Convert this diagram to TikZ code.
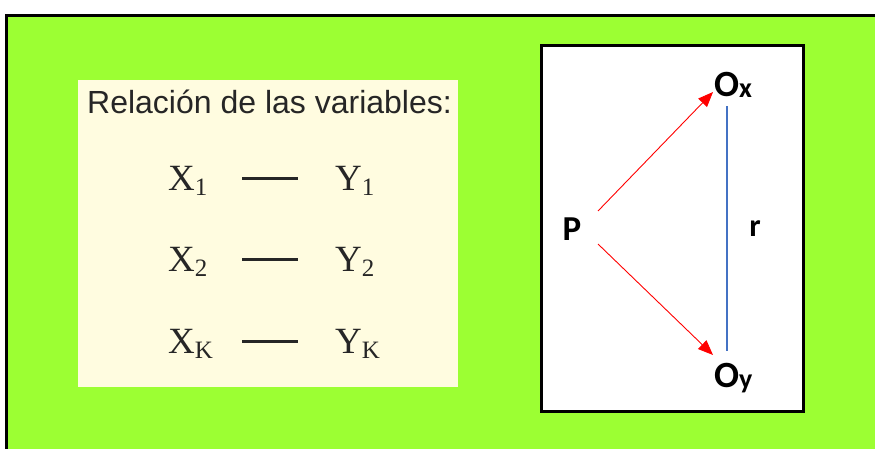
\documentclass[tikz,border=0pt]{standalone}
\usepackage{fontspec}
\setmainfont{Liberation Serif}
\newfontfamily\arialf{Liberation Sans}
\newfontfamily\calib{Carlito}
\usetikzlibrary{arrows.meta,calc}
\definecolor{bggreen}{HTML}{9CFF33}
\definecolor{cream}{HTML}{FFFCE0}
\definecolor{linkblue}{HTML}{4472C4}
\definecolor{arrred}{HTML}{FF0000}
\tikzset{
  varlbl/.style={inner sep=0pt, anchor=base west, font=\fontsize{37}{37}\selectfont, text=black!85},
  dashln/.style={line width=3pt, black!85},
  boldlbl/.style={inner sep=0pt, font=\calib\bfseries\fontsize{37}{37}\selectfont},
  redarr/.style={arrred, line width=0.9pt, -{Triangle[length=15pt,width=12pt]}},
}
\newcommand{\subsc}[1]{\raisebox{-5pt}{\fontsize{25}{25}\selectfont #1}}
\newcommand{\osub}[1]{\raisebox{-1pt}{\fontsize{28}{28}\selectfont #1}}
\begin{document}
\begin{tikzpicture}[x=1pt,y=-1pt]
\useasboundingbox (0,0) rectangle (875,448);
% background
\fill[white] (0,0) rectangle (875,448);
\filldraw[fill=bggreen, draw=black, line width=3pt] (6,15) rectangle (890,460);
% left cream panel
\fill[cream] (78,80) rectangle (458,387);
\node[inner sep=0pt, anchor=base west, font=\arialf\fontsize{32}{32}\selectfont, text=black!85] (title) at (87,113) {Relación de las variables:};
\node[varlbl] (X1) at (168,190) {X\subsc{1}};
\node[varlbl] (Y1) at (335,190) {Y\subsc{1}};
\node[varlbl] (X2) at (168,271) {X\subsc{2}};
\node[varlbl] (Y2) at (335,271) {Y\subsc{2}};
\node[varlbl] (XK) at (168,353) {X\subsc{K}};
\node[varlbl] (YK) at (335,353) {Y\subsc{K}};
\draw[dashln] ($(X1.base west)+(74,-12)$) -- ($(Y1.base west)+(-37,-12)$);
\draw[dashln] ($(X2.base west)+(74,-12)$) -- ($(Y2.base west)+(-37,-12)$);
\draw[dashln] ($(XK.base west)+(74,-12)$) -- ($(YK.base west)+(-37,-12)$);
% right panel
\filldraw[fill=white, draw=black, line width=3pt] (541,45) rectangle (803,411);
\node[boldlbl, font=\calib\bfseries\fontsize{35}{35}\selectfont] (P) at (572,229) {P};
\node[boldlbl, anchor=base west] (Ox) at (714,96) {O\osub{x}};
\node[boldlbl, anchor=base west] (Oy) at (714,387) {O\osub{y}};
\node[boldlbl, font=\calib\bfseries\fontsize{32}{32}\selectfont] (r) at (755,229) {r};
\draw[redarr] ($(P)+(26,-18)$) -- ($(Ox.base west)+(-1,-4)$);
\draw[redarr] ($(P)+(26,15)$) -- ($(Oy.base west)+(-1,-32)$);
\draw[linkblue, line width=2.2pt] ($(Ox.base west)+(13,10)$) -- ($(Oy.base west)+(13,-36)$);
\end{tikzpicture}
\end{document}
